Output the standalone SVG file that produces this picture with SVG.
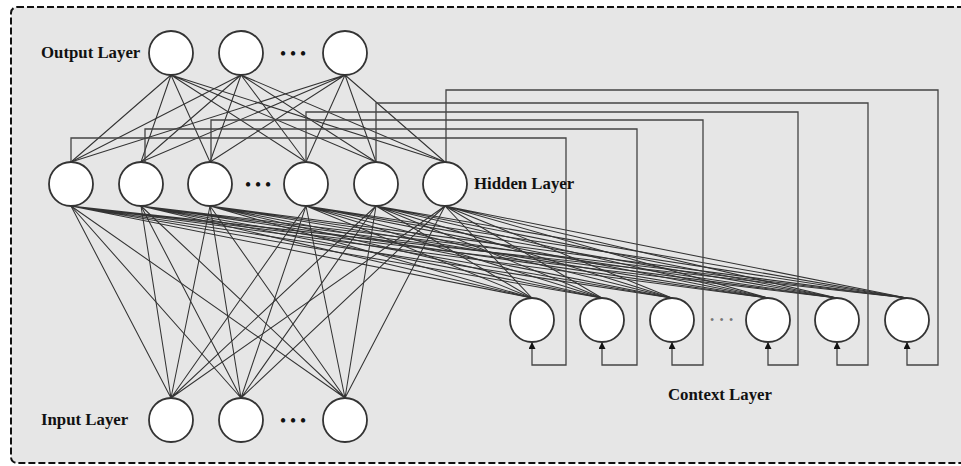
<svg xmlns="http://www.w3.org/2000/svg" width="961" height="466" viewBox="0 0 961 466">
  <style>
    .frame { fill: #e6e6e6; stroke: #111; stroke-width: 2; stroke-dasharray: 7 3; }
    .node { fill: #ffffff; stroke: #333; stroke-width: 1.8; }
    .link { stroke: #333; stroke-width: 1.05; fill: none; }
    .loop { stroke: #444; stroke-width: 1.3; fill: none; }
    .label { font-family: "Liberation Serif", "Times New Roman", serif; font-weight: bold; font-size: 16.8px; fill: #111; }
    .dots { font-family: "Liberation Serif", "Times New Roman", serif; font-weight: bold; font-size: 16px; letter-spacing: 4.4px; fill: #111; }
    .cdots { font-family: "Liberation Serif", "Times New Roman", serif; font-size: 12px; letter-spacing: 5.3px; fill: #777; }
  </style>
  <defs>
    <marker id="arrow" viewBox="0 0 8 8" refX="8" refY="4" markerWidth="7" markerHeight="7" markerUnits="userSpaceOnUse" orient="auto">
      <path d="M0,0 L8,4 L0,8 Z" fill="#111"/>
    </marker>
  </defs>

  <!-- frame -->
  <rect class="frame" x="11" y="7" width="970" height="456" rx="6" ry="6"/>

  <!-- connectors -->
  <g id="connectors">
    <!-- output -> hidden -->
    <g class="link">
      <path d="M171,75 L71,162 M171,75 L141,162 M171,75 L210,162 M171,75 L306,162 M171,75 L376,162 M171,75 L445,162"/>
      <path d="M241,75 L71,162 M241,75 L141,162 M241,75 L210,162 M241,75 L306,162 M241,75 L376,162 M241,75 L445,162"/>
      <path d="M345,75 L71,162 M345,75 L141,162 M345,75 L210,162 M345,75 L306,162 M345,75 L376,162 M345,75 L445,162"/>
    </g>
    <!-- input -> hidden -->
    <g class="link">
      <path d="M171,398 L71,206 M171,398 L141,206 M171,398 L210,206 M171,398 L306,206 M171,398 L376,206 M171,398 L445,206"/>
      <path d="M241,398 L71,206 M241,398 L141,206 M241,398 L210,206 M241,398 L306,206 M241,398 L376,206 M241,398 L445,206"/>
      <path d="M345,398 L71,206 M345,398 L141,206 M345,398 L210,206 M345,398 L306,206 M345,398 L376,206 M345,398 L445,206"/>
    </g>
    <!-- hidden -> context -->
    <g class="link">
      <path d="M71,206 L532,298 M71,206 L602,298 M71,206 L672,298 M71,206 L768,298 M71,206 L837,298 M71,206 L907,298"/>
      <path d="M141,206 L532,298 M141,206 L602,298 M141,206 L672,298 M141,206 L768,298 M141,206 L837,298 M141,206 L907,298"/>
      <path d="M210,206 L532,298 M210,206 L602,298 M210,206 L672,298 M210,206 L768,298 M210,206 L837,298 M210,206 L907,298"/>
      <path d="M306,206 L532,298 M306,206 L602,298 M306,206 L672,298 M306,206 L768,298 M306,206 L837,298 M306,206 L907,298"/>
      <path d="M376,206 L532,298 M376,206 L602,298 M376,206 L672,298 M376,206 L768,298 M376,206 L837,298 M376,206 L907,298"/>
      <path d="M445,206 L532,298 M445,206 L602,298 M445,206 L672,298 M445,206 L768,298 M445,206 L837,298 M445,206 L907,298"/>
    </g>
    <!-- hidden copies into context units -->
    <g class="loop">
      <path d="M71,162 V138 H566 V365 H532 V342" marker-end="url(#arrow)"/>
      <path d="M145,162 V129 H637 V365 H602 V342" marker-end="url(#arrow)"/>
      <path d="M211,162 V120 H703 V365 H672 V342" marker-end="url(#arrow)"/>
      <path d="M306,162 V112 H798 V365 H768 V342" marker-end="url(#arrow)"/>
      <path d="M376,162 V103 H868 V365 H837 V342" marker-end="url(#arrow)"/>
      <path d="M446,162 V90 H938 V365 H907 V342" marker-end="url(#arrow)"/>
    </g>
  </g>

  <!-- output layer -->
  <g id="output-layer">
    <text class="label" x="41" y="58">Output Layer</text>
    <circle id="out1" class="node" cx="171" cy="53" r="22"/>
    <circle id="out2" class="node" cx="241" cy="53" r="22"/>
    <text class="dots" x="280.2" y="59">•••</text>
    <circle id="out3" class="node" cx="345" cy="53" r="22"/>
  </g>

  <!-- hidden layer -->
  <g id="hidden-layer">
    <circle id="hid1" class="node" cx="71" cy="184" r="22"/>
    <circle id="hid2" class="node" cx="141" cy="184" r="22"/>
    <circle id="hid3" class="node" cx="210" cy="184" r="22"/>
    <text class="dots" x="245.2" y="190">•••</text>
    <circle id="hid4" class="node" cx="306" cy="184" r="22"/>
    <circle id="hid5" class="node" cx="376" cy="184" r="22"/>
    <circle id="hid6" class="node" cx="445" cy="184" r="22"/>
    <text class="label" x="474" y="189">Hidden Layer</text>
  </g>

  <!-- context layer -->
  <g id="context-layer">
    <circle id="ctx1" class="node" cx="532" cy="320" r="22"/>
    <circle id="ctx2" class="node" cx="602" cy="320" r="22"/>
    <circle id="ctx3" class="node" cx="672" cy="320" r="22"/>
    <text class="cdots" x="710" y="324">•••</text>
    <circle id="ctx4" class="node" cx="768" cy="320" r="22"/>
    <circle id="ctx5" class="node" cx="837" cy="320" r="22"/>
    <circle id="ctx6" class="node" cx="907" cy="320" r="22"/>
    <text class="label" x="668" y="400">Context Layer</text>
  </g>

  <!-- input layer -->
  <g id="input-layer">
    <text class="label" x="41" y="425">Input Layer</text>
    <circle id="in1" class="node" cx="171" cy="420" r="22"/>
    <circle id="in2" class="node" cx="241" cy="420" r="22"/>
    <text class="dots" x="280.2" y="426">•••</text>
    <circle id="in3" class="node" cx="345" cy="420" r="22"/>
  </g>
</svg>
